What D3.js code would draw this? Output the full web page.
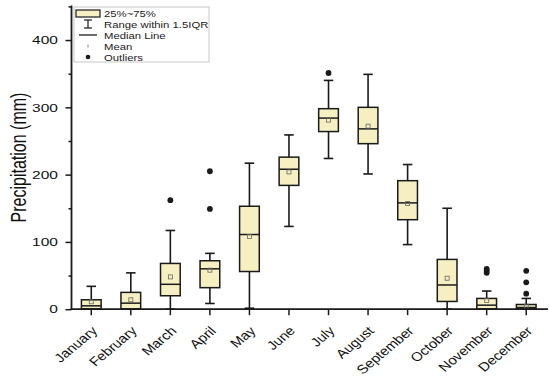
<!DOCTYPE html>
<html>
<head>
<meta charset="utf-8">
<script src="https://cdn.jsdelivr.net/npm/d3@7"></script>
<style>
  body { margin: 0; background: #fff; }
  svg { font-family: "Liberation Sans", Arial, sans-serif; }
</style>
</head>
<body>
<div id="chart"></div>
<script>
// Monthly precipitation box plot data
const months = ["January", "February", "March", "April", "May", "June",
    "July", "August", "September", "October", "November", "December"];
const whiskerLow  = [0, 0, 0, 8.5, 1.5, 123, 224, 201, 96, 0, 0, 0];
const q1          = [0.5, 0.5, 20, 32, 56, 184, 264, 246, 133, 11.5, 0.5, 0.5];
const median      = [5, 9, 37, 60, 111, 208, 284, 268, 158, 36, 6, 2.5];
const q3          = [14, 25, 68, 72, 153, 226, 298, 300, 191, 74, 16, 7];
const whiskerHigh = [34, 54, 117, 83, 217, 259, 340, 349, 215, 150, 27, 16];
const means       = [11, 14, 48, 58, 108, 204, 281, 272, 157, 46, 13, 4.5];
const outliers    = [[], [], [162], [149, 205], [], [], [351], [], [], [], [54, 57, 60], [23, 40, 57]];
const yTicks = [0, 100, 200, 300, 400];
const legendLabels = ["25%~75%", "Range within 1.5IQR", "Median Line", "Mean", "Outliers"];

const width = 550, height = 377;
const boxFill = "#f6efc2";
const ink = "#1a1a1a";
const stretch = 1.35; // the original figure is stretched horizontally

const svg = d3.select("#chart").append("svg")
    .attr("width", width)
    .attr("height", height);

// Scales
const x = d3.scaleBand()
    .domain(months)
    .range([71.5, 546])
    .padding(0);
const y = d3.scaleLinear()
    .domain([0, 450])
    .range([309.2, 6.4]);

const rows = months.map((m, i) => ({
    month: m, lo: whiskerLow[i], q1: q1[i], med: median[i], q3: q3[i],
    hi: whiskerHigh[i], mean: means[i], out: outliers[i]
}));

const bw = 19.7;   // box width
const cap = 9.5;   // whisker cap width
const cx = d => x(d.month) + x.bandwidth() / 2;

// Whiskers
const g = svg.append("g");
g.selectAll(".whisker")
    .data(rows)
    .enter().append("line")
    .attr("x1", cx).attr("x2", cx)
    .attr("y1", d => y(d.lo)).attr("y2", d => y(d.hi))
    .attr("stroke", ink).attr("stroke-width", 1.6);
g.selectAll(".capHi")
    .data(rows)
    .enter().append("line")
    .attr("x1", d => cx(d) - cap / 2).attr("x2", d => cx(d) + cap / 2)
    .attr("y1", d => y(d.hi)).attr("y2", d => y(d.hi))
    .attr("stroke", ink).attr("stroke-width", 1.6);
g.selectAll(".capLo")
    .data(rows)
    .enter().append("line")
    .attr("x1", d => cx(d) - cap / 2).attr("x2", d => cx(d) + cap / 2)
    .attr("y1", d => y(d.lo)).attr("y2", d => y(d.lo))
    .attr("stroke", ink).attr("stroke-width", 1.6);

// Boxes
g.selectAll(".box")
    .data(rows)
    .enter().append("rect")
    .attr("x", d => cx(d) - bw / 2)
    .attr("y", d => y(d.q3))
    .attr("width", bw)
    .attr("height", d => y(d.q1) - y(d.q3))
    .attr("fill", boxFill)
    .attr("stroke", ink).attr("stroke-width", 1.5);

// Median lines
g.selectAll(".median")
    .data(rows)
    .enter().append("line")
    .attr("x1", d => cx(d) - bw / 2).attr("x2", d => cx(d) + bw / 2)
    .attr("y1", d => y(d.med)).attr("y2", d => y(d.med))
    .attr("stroke", ink).attr("stroke-width", 1.5);

// Means (small open squares)
g.selectAll(".mean")
    .data(rows)
    .enter().append("rect")
    .attr("x", d => cx(d) - 2).attr("y", d => y(d.mean) - 2)
    .attr("width", 4).attr("height", 4)
    .attr("fill", "none")
    .attr("stroke", "#666").attr("stroke-width", 0.8);

// Outliers (rounded dots)
const outPts = rows.flatMap(d => d.out.map(v => ({ month: d.month, v: v })));
g.selectAll(".outlier")
    .data(outPts)
    .enter().append("circle")
    .attr("cx", cx)
    .attr("cy", d => y(d.v))
    .attr("r", 2.9)
    .attr("fill", ink);

// Y axis with major and minor ticks
const yAxis = svg.append("g")
    .attr("transform", "translate(71.5,0)");
yAxis.call(d3.axisLeft(y).tickValues(d3.range(50, 451, 100)).tickSize(3).tickFormat(""));
yAxis.append("g")
    .call(d3.axisLeft(y).tickValues(yTicks).tickSize(6).tickPadding(0));
yAxis.selectAll(".domain").remove();
yAxis.selectAll("line").attr("stroke", ink).attr("stroke-width", 1.5);
yAxis.selectAll("text")
    .attr("font-size", "11.5px")
    .attr("fill", "#111")
    .attr("font-family", "Liberation Sans, Arial, sans-serif")
    .attr("x", -10)
    .attr("transform", `scale(${stretch},1)`);
yAxis.append("line")
    .attr("x1", 0).attr("x2", 0)
    .attr("y1", y(0)).attr("y2", y(450) - 1)
    .attr("stroke", ink).attr("stroke-width", 1.8);

// X axis
const xAxis = svg.append("g")
    .attr("transform", `translate(0,${y(0)})`);
xAxis.call(d3.axisBottom(x).tickSize(6).tickFormat(""));
xAxis.selectAll(".domain").remove();
xAxis.selectAll("line").attr("stroke", ink).attr("stroke-width", 1.5);
xAxis.append("line")
    .attr("x1", 70.6).attr("x2", 548)
    .attr("stroke", ink).attr("stroke-width", 1.8);

// Month labels, rotated
svg.selectAll(".month")
    .data(months)
    .enter().append("text")
    .attr("transform", d => `translate(${x(d) + x.bandwidth() / 2 + 7},${y(0) + 22.5}) scale(1.2,1) rotate(-45)`)
    .attr("text-anchor", "end")
    .attr("font-size", "12.5px")
    .attr("fill", "#111")
    .text(d => d);

// Y axis title
svg.append("text")
    .attr("transform", `translate(18,157.5) scale(${stretch},1) rotate(-90)`)
    .attr("text-anchor", "middle")
    .attr("dy", "0.35em")
    .attr("font-size", "16px")
    .attr("fill", "#111")
    .text("Precipitation (mm)");

// Legend
const lg = svg.append("g");
lg.append("rect")
    .attr("x", 74).attr("y", 7).attr("width", 135).attr("height", 55)
    .attr("fill", "#fff").attr("stroke", "#c8c8c8").attr("stroke-width", 1);
lg.append("rect")
    .attr("x", 76).attr("y", 10).attr("width", 24).attr("height", 7)
    .attr("fill", boxFill).attr("stroke", ink).attr("stroke-width", 1.2);
lg.append("line").attr("x1", 88).attr("x2", 88).attr("y1", 20).attr("y2", 28)
    .attr("stroke", ink).attr("stroke-width", 1.2);
lg.append("line").attr("x1", 84).attr("x2", 92).attr("y1", 20).attr("y2", 20)
    .attr("stroke", ink).attr("stroke-width", 1.2);
lg.append("line").attr("x1", 84).attr("x2", 92).attr("y1", 28).attr("y2", 28)
    .attr("stroke", ink).attr("stroke-width", 1.2);
lg.append("line").attr("x1", 79).attr("x2", 97).attr("y1", 35).attr("y2", 35)
    .attr("stroke", ink).attr("stroke-width", 1.3);
lg.append("line").attr("x1", 88).attr("x2", 88).attr("y1", 44.5).attr("y2", 47.5)
    .attr("stroke", "#777").attr("stroke-width", 0.9);
lg.append("circle")
    .attr("cx", 88).attr("cy", 57).attr("r", 2.3)
    .attr("fill", ink);
lg.selectAll(".legendText")
    .data(legendLabels)
    .enter().append("text")
    .attr("transform", (d, i) => `translate(104,${13.5 + i * 10.9 + 3.4}) scale(1.18,1)`)
    .attr("font-size", "9.6px")
    .attr("fill", "#222")
    .text(d => d);
</script>
</body>
</html>
